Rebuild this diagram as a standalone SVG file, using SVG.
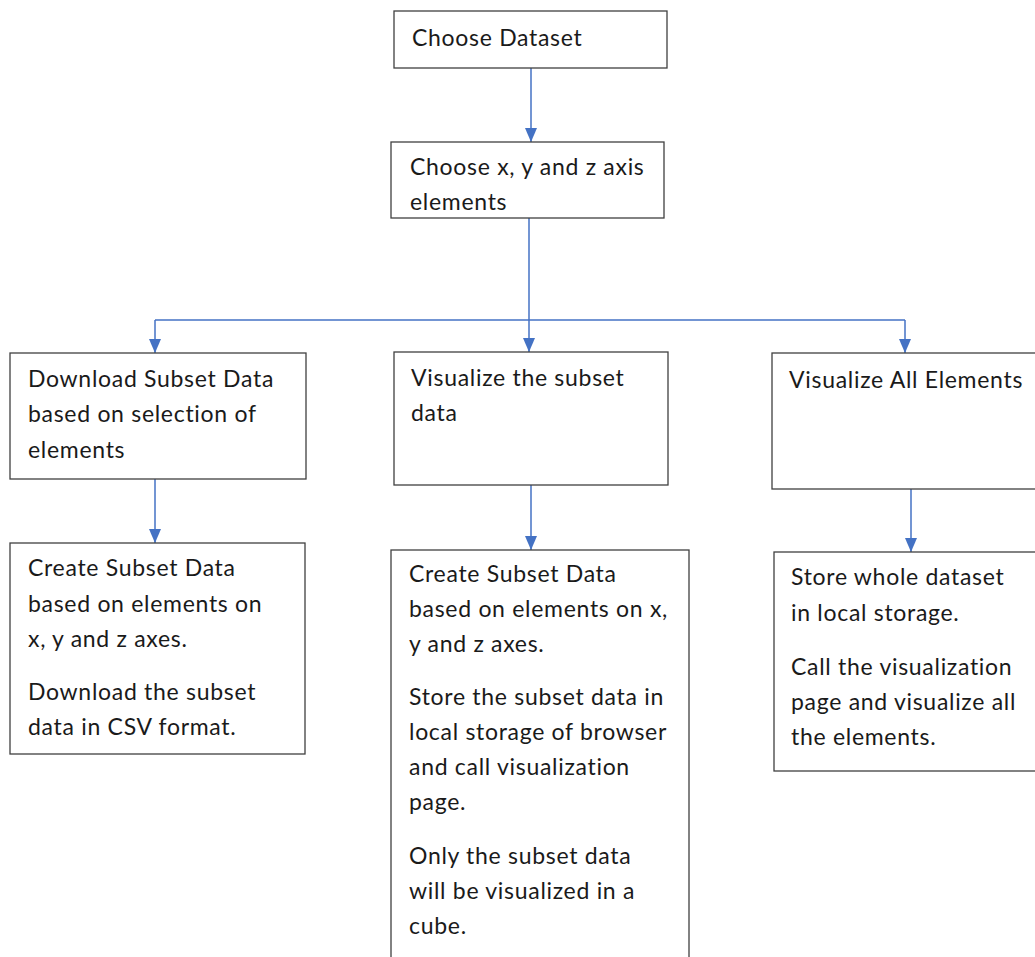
<svg xmlns="http://www.w3.org/2000/svg" width="1035" height="957" viewBox="0 0 1035 957">
  <style>
    .box { fill: #ffffff; stroke: #404040; stroke-width: 1.3; }
    .lbl { font-family: Lato, "Open Sans", "Liberation Sans", sans-serif; font-size: 23px; letter-spacing: 0.7px; fill: #1a1a1a; }
    .wire { fill: none; stroke: #4472C4; stroke-width: 1.5; }
  </style>
  <defs>
    <!-- solid triangular head, tip at the end of the line -->
    <marker id="arrow" viewBox="0 0 14 12" refX="14" refY="6" markerWidth="14" markerHeight="12" markerUnits="userSpaceOnUse" orient="auto">
      <path d="M0,0 L14,6 L0,12 Z" fill="#4472C4"/>
    </marker>
  </defs>
  <rect width="1035" height="957" fill="#ffffff"/>

  <g id="connectors">
    <line class="wire" x1="531" y1="68" x2="531" y2="142" marker-end="url(#arrow)"/>
    <line class="wire" x1="529" y1="218" x2="529" y2="320"/>
    <line class="wire" x1="155" y1="320" x2="905" y2="320"/>
    <line class="wire" x1="155" y1="320" x2="155" y2="353" marker-end="url(#arrow)"/>
    <line class="wire" x1="529" y1="320" x2="529" y2="352" marker-end="url(#arrow)"/>
    <line class="wire" x1="905" y1="320" x2="905" y2="353" marker-end="url(#arrow)"/>
    <line class="wire" x1="155" y1="479" x2="155" y2="543" marker-end="url(#arrow)"/>
    <line class="wire" x1="531" y1="485" x2="531" y2="550" marker-end="url(#arrow)"/>
    <line class="wire" x1="911" y1="489" x2="911" y2="552" marker-end="url(#arrow)"/>
  </g>

  <g id="choose-dataset">
    <rect class="box" x="394" y="11" width="273" height="57"/>
    <text class="lbl" x="412" y="46">Choose Dataset</text>
  </g>

  <g id="choose-axes">
    <rect class="box" x="391" y="142" width="273" height="76"/>
    <text class="lbl" x="410" y="175">Choose x, y and z axis</text>
    <text class="lbl" x="410" y="210">elements</text>
  </g>

  <g id="download-subset">
    <rect class="box" x="10" y="353" width="296" height="126"/>
    <text class="lbl" x="28" y="387">Download Subset Data</text>
    <text class="lbl" x="28" y="422">based on selection of</text>
    <text class="lbl" x="28" y="458">elements</text>
  </g>

  <g id="visualize-subset">
    <rect class="box" x="394" y="352" width="274" height="133"/>
    <text class="lbl" x="411" y="386">Visualize the subset</text>
    <text class="lbl" x="411" y="421">data</text>
  </g>

  <g id="visualize-all">
    <rect class="box" x="772" y="353" width="275" height="136"/>
    <text class="lbl" x="789" y="388">Visualize All Elements</text>
  </g>

  <g id="create-download">
    <rect class="box" x="10" y="543" width="295" height="211"/>
    <text class="lbl" x="28" y="576">Create Subset Data</text>
    <text class="lbl" x="28" y="612">based on elements on</text>
    <text class="lbl" x="28" y="647">x, y and z axes.</text>
    <text class="lbl" x="28" y="700">Download the subset</text>
    <text class="lbl" x="28" y="735">data in CSV format.</text>
  </g>

  <g id="create-store">
    <rect class="box" x="391" y="550" width="298" height="420"/>
    <text class="lbl" x="409" y="582">Create Subset Data</text>
    <text class="lbl" x="409" y="617">based on elements on x,</text>
    <text class="lbl" x="409" y="652">y and z axes.</text>
    <text class="lbl" x="409" y="705">Store the subset data in</text>
    <text class="lbl" x="409" y="740">local storage of browser</text>
    <text class="lbl" x="409" y="775">and call visualization</text>
    <text class="lbl" x="409" y="810">page.</text>
    <text class="lbl" x="409" y="864">Only the subset data</text>
    <text class="lbl" x="409" y="899">will be visualized in a</text>
    <text class="lbl" x="409" y="934">cube.</text>
  </g>

  <g id="store-whole">
    <rect class="box" x="774" y="552" width="275" height="219"/>
    <text class="lbl" x="791" y="585">Store whole dataset</text>
    <text class="lbl" x="791" y="621">in local storage.</text>
    <text class="lbl" x="791" y="675">Call the visualization</text>
    <text class="lbl" x="791" y="710">page and visualize all</text>
    <text class="lbl" x="791" y="745">the elements.</text>
  </g>
</svg>
